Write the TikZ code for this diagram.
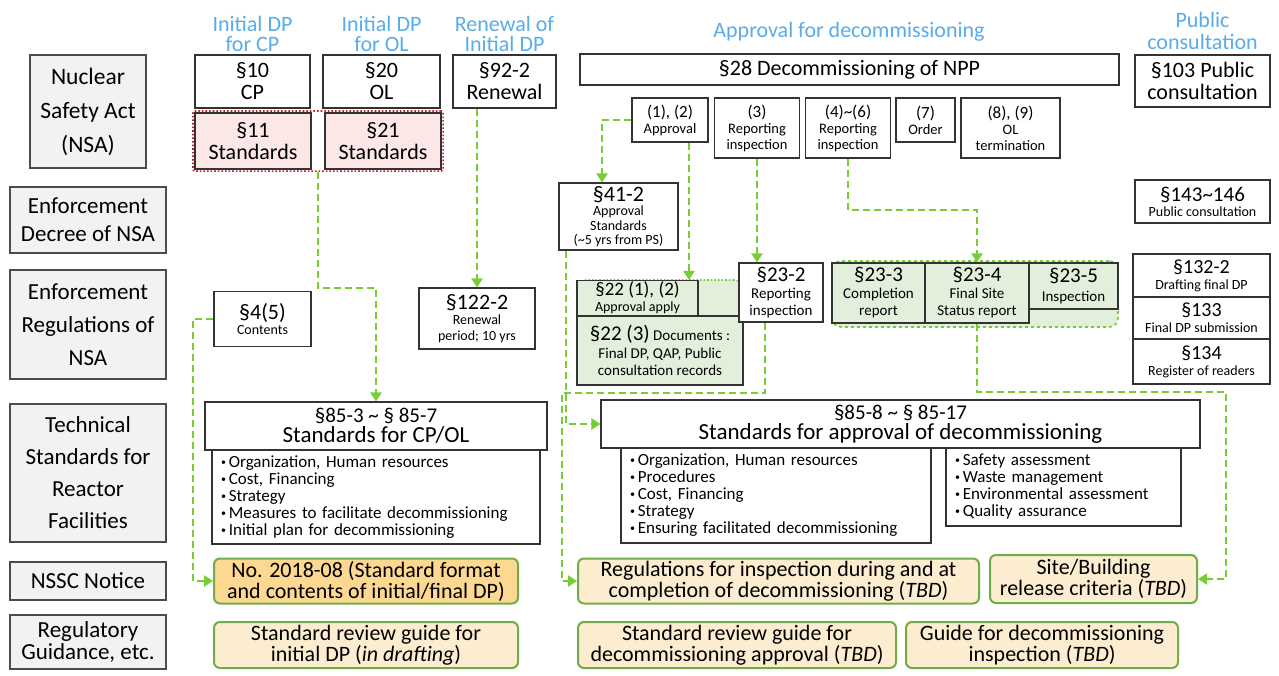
\documentclass[tikz,border=0pt]{standalone}
\usepackage{fontspec}
\setmainfont{Carlito}
\usepackage{xcolor}
\usetikzlibrary{arrows.meta,fit}

\definecolor{hdrblue}{RGB}{88,172,232}
\definecolor{linkgreen}{RGB}{118,206,52}
\definecolor{labgray}{RGB}{242,242,242}
\definecolor{pinkfill}{RGB}{251,232,230}
\definecolor{stdred}{RGB}{190,30,40}
\definecolor{mintfill}{RGB}{226,239,218}
\definecolor{notefill}{RGB}{253,216,144}
\definecolor{guidefill}{RGB}{253,237,208}
\definecolor{guideedge}{RGB}{112,173,71}

\newcommand{\fsize}[2]{\fontsize{#1}{#2}\selectfont}
\newcommand{\blt}{{\fsize{10}{10}\raisebox{2pt}{\textbullet}}\,}

\tikzset{
  lab/.style={draw=black!70, fill=labgray, line width=1.3pt, align=center, inner sep=0pt, font=\fsize{23}{33}},
  law/.style={draw=black!80, fill=white, line width=1.1pt, align=center, inner sep=0pt, font=\fsize{22}{22}},
  sub/.style={law, font=\fsize{14.5}{16}},
  hdr/.style={text=hdrblue, align=center, font=\fsize{22}{20}},
  note/.style={draw=guideedge, line width=2pt, rounded corners=6pt, fill=guidefill, align=center, inner sep=0pt, font=\fsize{22}{21}},
  link/.style={draw=linkgreen, line width=2.2pt, dash pattern=on 7pt off 4pt, -{Triangle[width=11pt,length=9pt]}},
}

\begin{document}
\begin{tikzpicture}[x=1pt,y=-1pt]
  \useasboundingbox (0,0) rectangle (1279,675);

  % column headings
  \node[hdr] (hcp) at (252.5,34) {Initial DP\\for CP};
  \node[hdr] (hol) at (381.5,34) {Initial DP\\for OL};
  \node[hdr] (hren) at (504.5,34) {Renewal of\\Initial DP};
  \node[hdr] (happ) at (849,32) {Approval for decommissioning};
  \node[hdr, font=\fsize{22}{22}] (hpub) at (1202.5,31) {Public\\consultation};

  % row labels
  \node[lab, minimum width=116pt, minimum height=113pt, font=\fsize{23.5}{34}] (nsa) at (88,111.5) {Nuclear\\Safety Act\\(NSA)};
  \node[lab, minimum width=156pt, minimum height=66pt, font=\fsize{23}{28}] (dec) at (88,220) {Enforcement\\Decree of NSA};
  \node[lab, minimum width=156pt, minimum height=109pt] (enr) at (88,324.5) {Enforcement\\Regulations of\\NSA};
  \node[lab, minimum width=156pt, minimum height=138pt, font=\fsize{23}{32}] (tech) at (88,473) {Technical\\Standards for\\Reactor\\Facilities};
  \node[lab, minimum width=156pt, minimum height=38pt] (nssc) at (88,581) {NSSC Notice};
  \node[lab, minimum width=156pt, minimum height=54pt, font=\fsize{23}{22}] (guid) at (88,642) {Regulatory\\Guidance, etc.};

  % Nuclear Safety Act
  \node[law, minimum width=115pt, minimum height=53pt] (s10) at (252.5,81.5) {§10\\CP};
  \node[law, minimum width=117pt, minimum height=53pt] (s20) at (381.5,81.5) {§20\\OL};
  \node[law, minimum width=103pt, minimum height=53pt] (s92) at (504.5,81.5) {§92-2\\Renewal};
  \node[law, minimum width=539pt, minimum height=31pt] (s28) at (849.5,69.5) {§28 Decommissioning of NPP};
  \node[law, minimum width=135pt, minimum height=52pt] (s103) at (1202.5,81) {§103 Public\\consultation};
  \node[law, fill=pinkfill, minimum width=116pt, minimum height=56pt] (s11) at (253,141) {§11\\Standards};
  \node[law, fill=pinkfill, minimum width=116pt, minimum height=56pt] (s21) at (383,141) {§21\\Standards};
  \node[draw=stdred, dotted, line width=1.6pt, rounded corners=2pt, inner sep=1.5pt, fit=(s11)(s21)] (std) {};

  \node[sub, minimum width=76pt, minimum height=44pt] (a12) at (670,120) {{\fsize{17}{17}(1), (2)}\\Approval};
  \node[sub, minimum width=85pt, minimum height=60pt] (a3) at (757,128) {{\fsize{17}{17}(3)}\\Reporting\\inspection};
  \node[sub, minimum width=85pt, minimum height=60pt] (a46) at (848,128) {{\fsize{17}{17}(4)\textasciitilde(6)}\\Reporting\\inspection};
  \node[sub, minimum width=59pt, minimum height=44pt] (a7) at (925.5,120) {{\fsize{17}{17}(7)}\\Order};
  \node[sub, minimum width=99pt, minimum height=60pt] (a89) at (1010.5,128) {{\fsize{17}{17}(8), (9)}\\OL\\termination};

  % Enforcement Decree
  \node[sub, font=\fsize{14}{14.5}, minimum width=119pt, minimum height=67pt] (s41) at (618.5,216.5) {{\fsize{22}{22}§41-2}\\Approval\\Standards\\(\textasciitilde5 yrs from PS)};
  \node[sub, font=\fsize{14}{15}, minimum width=135pt, minimum height=43pt] (s143) at (1202.5,201.5) {{\fsize{21}{21}§143\textasciitilde146}\\Public consultation};

  % Enforcement Regulations
  \node[sub, font=\fsize{14}{15}, minimum width=97pt, minimum height=55pt] (s4) at (262.5,319) {{\fsize{22}{22}§4(5)}\\Contents};
  \node[sub, font=\fsize{14}{15.5}, minimum width=116pt, minimum height=61pt] (s122) at (477,318.5) {{\fsize{22}{22}§122-2}\\Renewal\\period; 10 yrs};

  \node[fill=mintfill, draw=linkgreen, dotted, line width=1.6pt, rounded corners=9pt, inner sep=0pt, fit={(577,280) (743,385)}] (g22) {};
  \node[sub, fill=mintfill, font=\fsize{14}{16}, minimum width=121pt, minimum height=35pt] (s22a) at (637.5,298) {{\fsize{19}{16}§22 (1), (2)}\\Approval apply};
  \node[sub, fill=mintfill, font=\fsize{15}{17.5}, minimum width=166pt, minimum height=69pt] (s22b) at (660,350.5) {{\fsize{21}{19}§22 (3)} Documents :\\Final DP, QAP, Public\\consultation records};
  \node[sub, font=\fsize{15}{17}, minimum width=84pt, minimum height=59pt] (s232) at (781,292.5) {{\fsize{21}{19}§23-2}\\Reporting\\inspection};

  \node[fill=mintfill, draw=linkgreen, dashed, line width=1.6pt, rounded corners=9pt, inner sep=0pt, fit={(832,261) (1118,327)}] (g23) {};
  \node[sub, fill=mintfill, font=\fsize{15}{17}, minimum width=93pt, minimum height=60pt] (s233) at (878.5,293) {{\fsize{21}{19}§23-3}\\Completion\\report};
  \node[sub, fill=mintfill, font=\fsize{15}{17}, minimum width=104pt, minimum height=60pt] (s234) at (977,293) {{\fsize{21}{19}§23-4}\\Final Site\\Status report};
  \node[sub, fill=mintfill, font=\fsize{15}{19}, minimum width=89pt, minimum height=46pt] (s235) at (1073.5,286) {{\fsize{21}{19}§23-5}\\Inspection};

  \node[sub, font=\fsize{14}{16}, minimum width=137pt, minimum height=43pt] (s1322) at (1201.5,275.5) {{\fsize{20}{18}§132-2}\\Drafting final DP};
  \node[sub, font=\fsize{14}{16}, minimum width=137pt, minimum height=42pt] (s133) at (1201.5,318) {{\fsize{20}{18}§133}\\Final DP submission};
  \node[sub, font=\fsize{14}{16}, minimum width=137pt, minimum height=45pt] (s134) at (1201.5,361.5) {{\fsize{20}{18}§134}\\Register of readers};

  % Technical Standards
  \node[law, font=\fsize{23}{20}, minimum width=342pt, minimum height=48pt] (h853) at (376,426) {{\fsize{21}{20}§85-3 \textasciitilde{} § 85-7}\\Standards for CP/OL};
  \node[law, font=\fsize{17}{17}, align=left, text width=310pt, inner xsep=9pt, minimum height=94pt] (b853) at (376,497) {\blt Organization, Human resources\\\blt Cost, Financing\\\blt Strategy\\\blt Measures to facilitate decommissioning\\\blt Initial plan for decommissioning};
  \node[law, font=\fsize{23}{20}, minimum width=599pt, minimum height=48pt] (h858) at (900.5,424) {{\fsize{21}{20}§85-8 \textasciitilde{} § 85-17}\\Standards for approval of decommissioning};
  \node[law, font=\fsize{17}{17}, align=left, text width=292pt, inner xsep=9pt, minimum height=95pt] (b858l) at (776,495.5) {\blt Organization, Human resources\\\blt Procedures\\\blt Cost, Financing\\\blt Strategy\\\blt Ensuring facilitated decommissioning};
  \node[law, font=\fsize{17}{17}, align=left, text width=217pt, inner xsep=9pt, minimum height=78pt] (b858r) at (1063.5,487) {\blt Safety assessment\\\blt Waste management\\\blt Environmental assessment\\\blt Quality assurance};

  % NSSC notices and guidance
  \node[note, fill=notefill, minimum width=304pt, minimum height=45pt] (n2018) at (366,581) {No. 2018-08 (Standard format\\and contents of initial/final DP)};
  \node[note, minimum width=401pt, minimum height=45pt] (nreg) at (778.5,581) {Regulations for inspection during and at\\completion of decommissioning (\textit{TBD})};
  \node[note, minimum width=207pt, minimum height=48pt] (nsite) at (1093.5,579) {Site/Building\\release criteria (\textit{TBD})};
  \node[note, minimum width=304pt, minimum height=46pt] (g1) at (366,645) {Standard review guide for\\initial DP (\textit{in drafting})};
  \node[note, minimum width=318pt, minimum height=46pt] (g2) at (737,645) {Standard review guide for\\decommissioning approval (\textit{TBD})};
  \node[note, minimum width=272pt, minimum height=46pt] (g3) at (1042,645) {Guide for decommissioning\\inspection (\textit{TBD})};

  % links
  \coordinate (s41in) at ([xshift=-16.5pt]s41.north);
  \coordinate (a12out) at ([xshift=19pt]a12.south);
  \coordinate (s41out) at ([xshift=-52.5pt]s41.south);
  \coordinate (s232out) at ([xshift=-16pt]s232.south);

  \draw[link] (std.south) |- (376,288) -- (h853.north);
  \draw[link] (s92.south -| s122.north) -- (s122.north);
  \draw[link] (s4.west) -- (193,319) |- (n2018.west);
  \draw[link] (a12.west) -| (s41in);
  \draw[link] (a12out) -- (a12out |- s22a.north);
  \draw[link] (a3.south) -- (a3.south |- s232.north);
  \draw[link] (a46.south) |- (977,210) -- (s234.north);
  \draw[link] (s41out) |- (h858.west);
  \draw[link] (s232out) |- (562,393) |- (nreg.west);
  \draw[link] (s234.south) |- (1226,392) |- (nsite.east);
\end{tikzpicture}
\end{document}
